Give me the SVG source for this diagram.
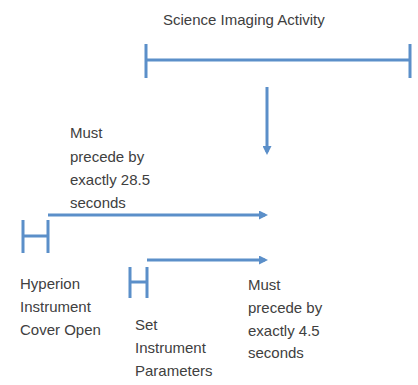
<svg xmlns="http://www.w3.org/2000/svg" width="418" height="385" viewBox="0 0 418 385">
<defs>
<style>
.t{font-family:"Liberation Sans",Arial,sans-serif;font-size:15px;fill:#404040}
.l{stroke:#5B8FC9;stroke-width:3;fill:none}
</style>
<marker id="ah" markerWidth="3" markerHeight="3" refX="2" refY="1.5" orient="auto" markerUnits="strokeWidth">
<path d="M0,0 L3,1.5 L0,3 Z" fill="#5B8FC9"/>
</marker>
</defs>
<rect width="418" height="385" fill="#fff"/>
<g id="science-imaging-activity">
<text class="t" x="163" y="25">Science Imaging Activity</text>
<path class="l" d="M146,44 V78 M146,60 H410 M410,44 V78"/>
</g>
<g id="hyperion-cover-open">
<path class="l" d="M23,220 V253 M23,236 H48 M48,220 V253"/>
<text class="t"><tspan x="20" y="289">Hyperion</tspan><tspan x="20" y="312">Instrument</tspan><tspan x="20" y="335">Cover Open</tspan></text>
</g>
<g id="set-instrument-parameters">
<path class="l" d="M130,267 V298 M130,282 H147 M147,267 V298"/>
<text class="t"><tspan x="135" y="330">Set</tspan><tspan x="135" y="353">Instrument</tspan><tspan x="135" y="376">Parameters</tspan></text>
</g>
<g id="label-28">
<text class="t"><tspan x="70" y="138">Must</tspan><tspan x="70" y="162">precede by</tspan><tspan x="70" y="185">exactly 28.5</tspan><tspan x="70" y="208">seconds</tspan></text>
</g>
<g id="label-4">
<text class="t"><tspan x="248" y="290">Must</tspan><tspan x="248" y="313">precede by</tspan><tspan x="248" y="336">exactly 4.5</tspan><tspan x="248" y="358">seconds</tspan></text>
</g>
<g id="connectors">
<path class="l" d="M267,87 V152" marker-end="url(#ah)"/>
<path class="l" d="M48,215 H265" marker-end="url(#ah)"/>
<path class="l" d="M147,260 H265" marker-end="url(#ah)"/>
</g>
</svg>
